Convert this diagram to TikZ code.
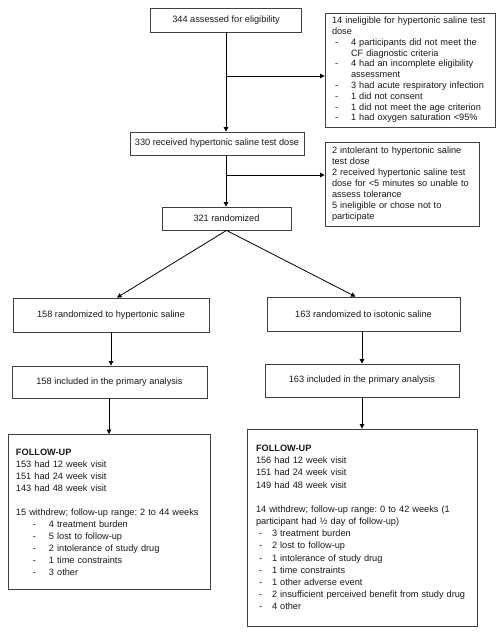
\documentclass[tikz,border=0pt]{standalone}
\usepackage{fontspec}
\setmainfont{Liberation Sans}
\usetikzlibrary{arrows.meta}
\frenchspacing
\newcommand{\ditem}[3]{\par\noindent\hangindent=#2\hangafter=1\makebox[#2][l]{\hspace*{#1}-}#3}
\tikzset{
  box/.style={draw=black!75, line width=0.8pt, rectangle, inner ysep=0pt,
    text=black!90, font=\fontsize{9.2}{11}\selectfont},
  cbox/.style={box, align=center, inner xsep=0pt},
  lbox/.style={box, align=left},
  arr/.style={draw=black, line width=0.8pt, -{Triangle[length=4.5pt,width=4.5pt]}},
  ln/.style={draw=black, line width=0.8pt}
}
\begin{document}
\begin{tikzpicture}[x=1pt,y=-1pt]
\useasboundingbox (0,0) rectangle (502,635);
\fill[white] (0,0) rectangle (502,635);

\node[cbox, minimum width=151pt, minimum height=24pt] (b1) at (226,20) {344 assessed for eligibility};
\node[cbox, minimum width=174pt, minimum height=23pt] (b2) at (217,143.5) {330 received hypertonic saline test dose};
\node[cbox, minimum width=129pt, minimum height=23pt] (b3) at (226.5,218.5) {321 randomized};

\node[lbox, minimum width=168pt, minimum height=114pt, inner xsep=7pt, text width=156pt,
  font=\fontsize{9.2}{10.8}\selectfont] (r1) at (410,70) {%
14 ineligible for hypertonic saline test\newline dose
\ditem{3pt}{19pt}{4 participants did not meet the\newline CF diagnostic criteria}
\ditem{3pt}{19pt}{4 had an incomplete eligibility\newline assessment}
\ditem{3pt}{19pt}{3 had acute respiratory infection}
\ditem{3pt}{19pt}{1 did not consent}
\ditem{3pt}{19pt}{1 did not meet the age criterion}
\ditem{3pt}{19pt}{1 had oxygen saturation <95\%}};

\node[lbox, minimum width=152pt, minimum height=84pt, inner xsep=7pt, text width=140pt,
  font=\fontsize{9.2}{11}\selectfont] (r2) at (402,184) {%
2 intolerant to hypertonic saline\\test dose\\2 received hypertonic saline test\\dose for <5 minutes so unable to\\assess tolerance\\5 ineligible or chose not to\\participate};

\node[cbox, minimum width=196pt, minimum height=34pt] (L1) at (111,315) {158 randomized to hypertonic saline};
\node[cbox, minimum width=193pt, minimum height=34pt] (R1) at (363.5,314) {163 randomized to isotonic saline};
\node[cbox, minimum width=195pt, minimum height=32pt] (L2) at (109.5,382) {158 included in the primary analysis};
\node[cbox, minimum width=194pt, minimum height=33pt] (R2) at (362,380.5) {163 included in the primary analysis};

\node[lbox, minimum width=202pt, minimum height=155pt, inner xsep=8pt, text width=186pt,
  font=\fontsize{9.2}{12}\selectfont] (L3) at (109,512) {%
\textbf{FOLLOW-UP}\\153 had 12 week visit\\151 had 24 week visit\\143 had 48 week visit\\[12pt]15 withdrew; follow-up range: 2 to 44 weeks
\ditem{17pt}{33pt}{4 treatment burden}
\ditem{17pt}{33pt}{5 lost to follow-up}
\ditem{17pt}{33pt}{2 intolerance of study drug}
\ditem{17pt}{33pt}{1 time constraints}
\ditem{17pt}{33pt}{3 other}};

\node[lbox, minimum width=230pt, minimum height=197pt, inner xsep=9pt, text width=212pt,
  font=\fontsize{9.2}{12.2}\selectfont] (R3) at (362,527.5) {%
\textbf{FOLLOW-UP}\\156 had 12 week visit\\151 had 24 week visit\\149 had 48 week visit\\[12pt]14 withdrew; follow-up range: 0 to 42 weeks (1\\participant had ½ day of follow-up)
\ditem{3pt}{16pt}{3 treatment burden}
\ditem{3pt}{16pt}{2 lost to follow-up}
\ditem{3pt}{16pt}{1 intolerance of study drug}
\ditem{3pt}{16pt}{1 time constraints}
\ditem{3pt}{16pt}{1 other adverse event}
\ditem{3pt}{16pt}{2 insufficient perceived benefit from study drug}
\ditem{3pt}{16pt}{4 other}};

\coordinate (j1) at (226,76);
\coordinate (j2) at (226,175);

\draw[arr] (b1.south) -- (b1.south |- b2.north);
\draw[arr] (j1) -- (j1 -| r1.west);
\draw[arr] (b1.south |- b2.south) -- (b3.north -| b1.south);
\draw[arr] (j2) -- (j2 -| r2.west);
\draw[arr] (b3.south) -- ([xshift=6pt]L1.north);
\draw[arr] (b3.south) -- ([xshift=-8pt]R1.north);
\draw[arr] (L1.south) -- (L1.south |- L2.north);
\draw[arr] (R2.north |- R1.south) -- (R2.north);
\draw[arr] (L2.south -| L3.north) -- (L3.north);
\draw[arr] (R2.south) -- (R3.north);
\end{tikzpicture}
\end{document}
